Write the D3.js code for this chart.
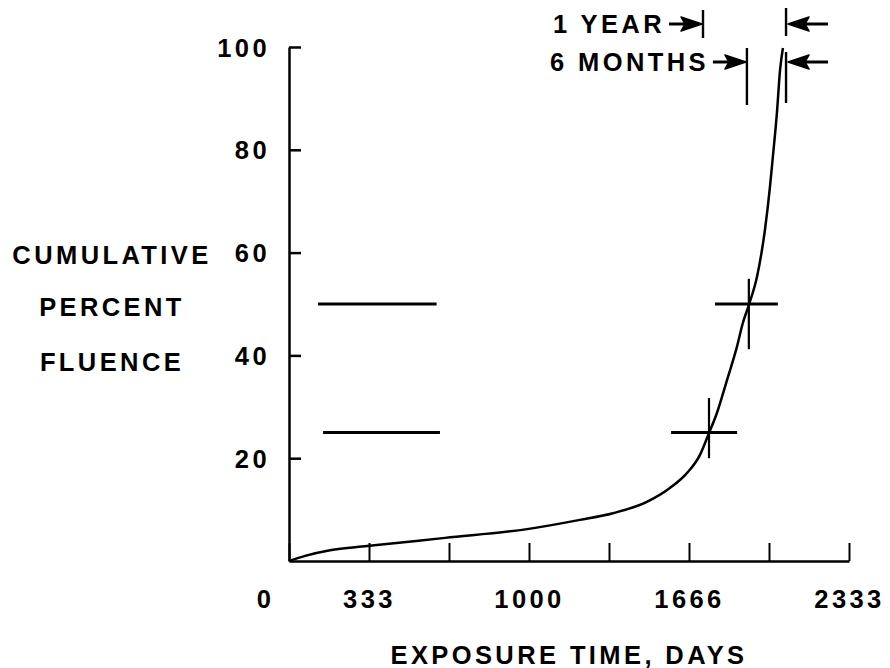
<!DOCTYPE html>
<html><head><meta charset="utf-8">
<script src="https://cdn.jsdelivr.net/npm/d3@7"></script>
<style>body{margin:0;background:#fff}</style>
</head><body><svg id="c" width="890" height="668"></svg>
<script>
// ---- data ----
const curveDays = [0, 67, 171, 325, 650, 992, 1212, 1350, 1491, 1587, 1658, 1712, 1750, 1783, 1825, 1866, 1891, 1916, 1950, 1983, 2004, 2016, 2033, 2046, 2058];
const curvePct  = [0, 1.0, 2.1, 2.9, 4.5, 6.2, 8.0, 9.3, 11.5, 14.2, 17.1, 20.6, 24.9, 28.8, 35.2, 41.6, 46.3, 49.8, 55.3, 64.4, 72.8, 78.6, 87.2, 95.5, 99.8];
const crossDay   = [1750, 1916];
const crossPct   = [25, 50];
const crossDayLo = [1592, 1775];
const crossDayHi = [1867, 2037];
const crossPctLo = [20.0, 41.2];
const crossPctHi = [31.7, 54.9];
const refPct     = [50, 25];
const refDayFrom = [121, 142];
const refDayTo   = [615, 629];
const xTicks      = [0, 333.33, 666.67, 1000, 1333.33, 1666.67, 2000, 2333.33];
const xTickLabels = ["0", "333", "", "1000", "", "1666", "", "2333"];
const yTicks      = [20, 40, 60, 80, 100];
const yTitle      = ["CUMULATIVE", "PERCENT", "FLUENCE"];
const xTitle      = "EXPOSURE TIME, DAYS";
const bracketLabels = ["1 YEAR", "6 MONTHS"];
const bracketFrom   = [1725, 1908];
const bracketTo     = [2071, 2071];

// ---- drawing ----
const svg = d3.select("#c");
const FONT = "'Liberation Sans', Arial, Helvetica, sans-serif";
const x = d3.scaleLinear().domain([0, 2333.33]).range([289, 849]);
const y = d3.scaleLinear().domain([0, 100]).range([561, 47]);

function styleText(sel){
  sel.attr("font-family", FONT).attr("font-weight", "bold").attr("font-size", 25.5)
     .attr("letter-spacing", 3.4).attr("fill", "#000");
}

// Y axis
const gy = svg.append("g").attr("transform", "translate(289,0)")
  .call(d3.axisLeft(y).tickValues(yTicks).tickSizeInner(-12).tickSizeOuter(0).tickPadding(19).tickFormat(d3.format("d")));
gy.select(".domain").attr("stroke", "#000").attr("stroke-width", 2.5);
gy.selectAll(".tick line").attr("stroke", "#000").attr("stroke-width", 2.5);
gy.selectAll(".tick text").call(styleText).attr("dy", "0.36em");

// X axis
const gx = svg.append("g").attr("transform", "translate(0,561)")
  .call(d3.axisBottom(x).tickValues(xTicks).tickSizeInner(-18).tickSizeOuter(0).tickPadding(29)
        .tickFormat((d, i) => xTickLabels[i]));
gx.select(".domain").attr("stroke", "#000").attr("stroke-width", 2.5);
gx.selectAll(".tick line").attr("stroke", "#000").attr("stroke-width", 2);
gx.selectAll(".tick text").call(styleText);
gx.selectAll(".tick").filter(d => d === 0).select("text").attr("x", -24);

// Y title
svg.append("g").selectAll("text").data(yTitle).join("text")
  .call(styleText).attr("text-anchor", "middle")
  .attr("x", 112).attr("y", (d, i) => [264, 316, 371][i]).text(d => d);

// X title
svg.append("text").call(styleText).attr("text-anchor", "middle")
  .attr("x", 569).attr("y", 664).text(xTitle);

// Reference lines
svg.append("g").selectAll("line").data(refPct).join("line")
  .attr("x1", (d, i) => x(refDayFrom[i])).attr("x2", (d, i) => x(refDayTo[i]))
  .attr("y1", d => y(d)).attr("y2", d => y(d))
  .attr("stroke", "#000").attr("stroke-width", 3);

// Curve
const pts = curveDays.map((d, i) => [d, curvePct[i]]);
svg.append("path").datum(pts)
  .attr("d", d3.line().x(d => x(d[0])).y(d => y(d[1])).curve(d3.curveMonotoneX))
  .attr("fill", "none").attr("stroke", "#000").attr("stroke-width", 2.5);

// Crosses
const cg = svg.append("g");
crossDay.forEach((d, i) => {
  cg.append("line").attr("x1", x(crossDayLo[i])).attr("x2", x(crossDayHi[i]))
    .attr("y1", y(crossPct[i])).attr("y2", y(crossPct[i]))
    .attr("stroke", "#000").attr("stroke-width", 3.2);
  cg.append("line").attr("x1", x(d)).attr("x2", x(d))
    .attr("y1", y(crossPctLo[i])).attr("y2", y(crossPctHi[i]))
    .attr("stroke", "#000").attr("stroke-width", 2.2);
});

// Brackets
const rowY = [24, 62];
const barTop = [[10, 8], [48, 52]];
const barBot = [[38, 36], [105, 103]];
const bg = svg.append("g");
function arrow(xTail, xTip, yy){
  const dir = Math.sign(xTip - xTail);
  bg.append("line").attr("x1", xTail).attr("x2", xTip - dir * 12).attr("y1", yy).attr("y2", yy)
    .attr("stroke", "#000").attr("stroke-width", 3);
  bg.append("path").attr("d", `M${xTip},${yy} L${xTip - dir * 21},${yy - 7} L${xTip - dir * 17},${yy} L${xTip - dir * 21},${yy + 7} Z`)
    .attr("fill", "#000").attr("stroke", "#000").attr("stroke-width", 1.5).attr("stroke-linejoin", "round");
}
bracketLabels.forEach((lab, i) => {
  const xl = x(bracketFrom[i]), xr = x(bracketTo[i]), yy = rowY[i];
  bg.append("line").attr("x1", xl).attr("x2", xl).attr("y1", barTop[i][0]).attr("y2", barBot[i][0])
    .attr("stroke", "#000").attr("stroke-width", 2.4);
  bg.append("line").attr("x1", xr).attr("x2", xr).attr("y1", barTop[i][1]).attr("y2", barBot[i][1])
    .attr("stroke", "#000").attr("stroke-width", 2.4);
  arrow(xl - 34, xl - 1, yy);
  arrow(xr + 42, xr + 2, yy);
  bg.append("text").call(styleText).attr("text-anchor", "end")
    .attr("x", xl - 38).attr("y", yy + 9).text(lab);
});
</script>
</body></html>
